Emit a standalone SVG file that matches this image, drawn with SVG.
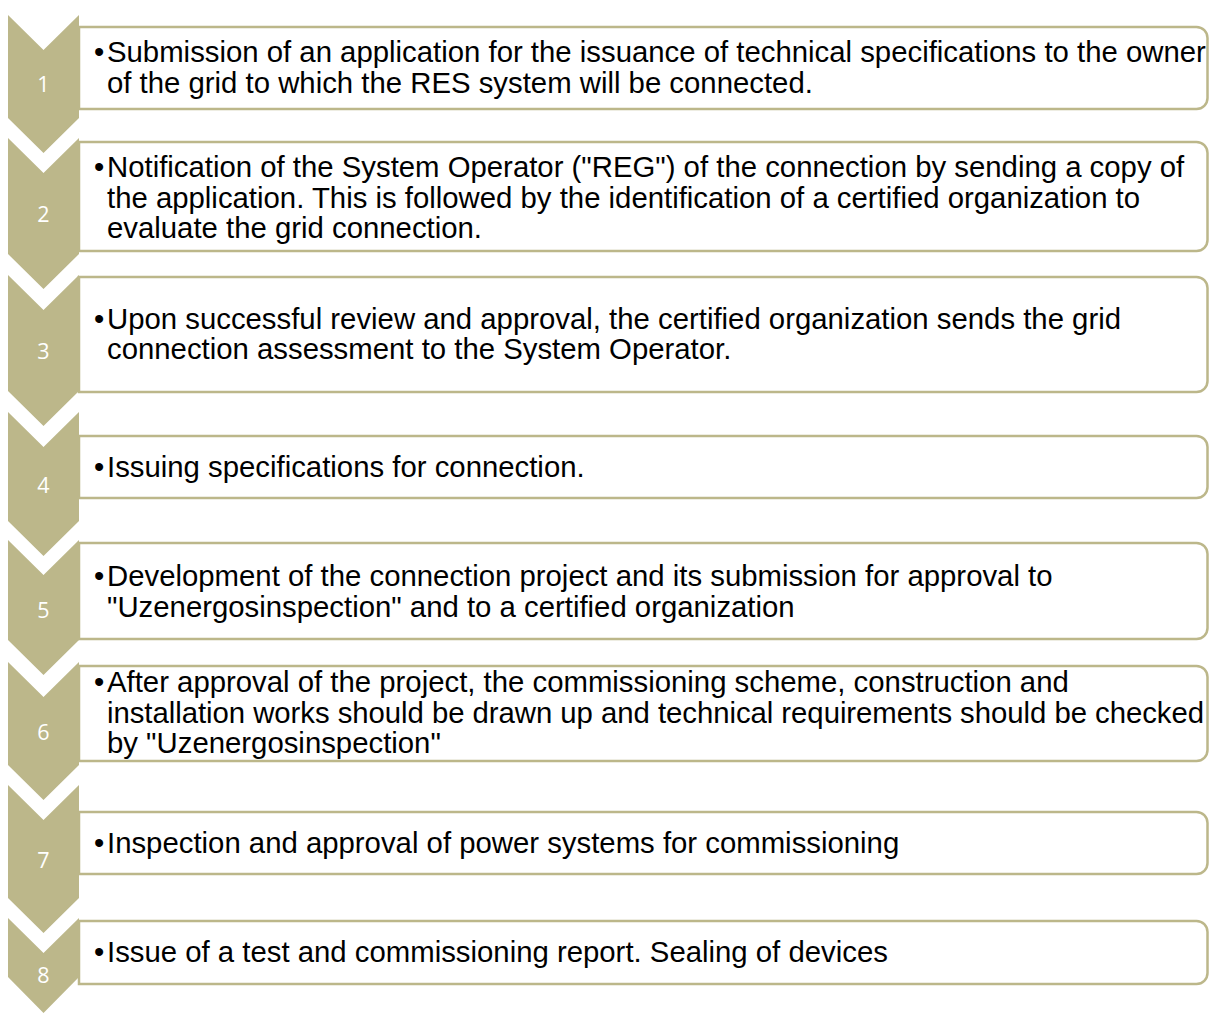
<svg xmlns="http://www.w3.org/2000/svg" width="1209" height="1014" viewBox="0 0 1209 1014">
  <style>
    .box { fill: #FFFFFF; stroke: #BCB78A; stroke-width: 2.5; }
    .chev { fill: #BCB78A; stroke: none; }
    .num { font-family: "Open Sans", "Liberation Sans", sans-serif; font-size: 21.5px; fill: #FFFFFF; text-anchor: middle; }
    .txt { font-family: "Liberation Sans", Arial, sans-serif; font-size: 29.33px; fill: #000000; }
  </style>
  <rect width="1209" height="1014" fill="#FFFFFF"/>

  <!-- step boxes: square left side tucked under the chevron, rounded right corners -->
  <g id="step-1">
    <path class="box" d="M79,27 H1196.5 A11,11 0 0 1 1207.5,38 V98 A11,11 0 0 1 1196.5,109 H79 Z"/>
    <polygon class="chev" points="8,15 43.5,50 79,15 79,118 43.5,153 8,118"/>
    <text class="num" x="43.5" y="92">1</text>
    <text class="txt" x="94" y="62">•</text>
    <text class="txt" x="107" y="62">Submission of an application for the issuance of technical specifications to the owner</text>
    <text class="txt" x="107" y="92.5">of the grid to which the RES system will be connected.</text>
  </g>

  <g id="step-2">
    <path class="box" d="M79,142 H1196.5 A11,11 0 0 1 1207.5,153 V240 A11,11 0 0 1 1196.5,251 H79 Z"/>
    <polygon class="chev" points="8,138 43.5,173 79,138 79,254 43.5,289 8,254"/>
    <text class="num" x="43.5" y="222">2</text>
    <text class="txt" x="94" y="177">•</text>
    <text class="txt" x="107" y="177">Notification of the System Operator ("REG") of the connection by sending a copy of</text>
    <text class="txt" x="107" y="207.5">the application. This is followed by the identification of a certified organization to</text>
    <text class="txt" x="107" y="238">evaluate the grid connection.</text>
  </g>

  <g id="step-3">
    <path class="box" d="M79,277 H1196.5 A11,11 0 0 1 1207.5,288 V381 A11,11 0 0 1 1196.5,392 H79 Z"/>
    <polygon class="chev" points="8,275 43.5,310 79,275 79,391 43.5,426 8,391"/>
    <text class="num" x="43.5" y="359">3</text>
    <text class="txt" x="94" y="328.5">•</text>
    <text class="txt" x="107" y="328.5">Upon successful review and approval, the certified organization sends the grid</text>
    <text class="txt" x="107" y="359">connection assessment to the System Operator.</text>
  </g>

  <g id="step-4">
    <path class="box" d="M79,436 H1196.5 A11,11 0 0 1 1207.5,447 V487 A11,11 0 0 1 1196.5,498 H79 Z"/>
    <polygon class="chev" points="8,412 43.5,447 79,412 79,521 43.5,556 8,521"/>
    <text class="num" x="43.5" y="493">4</text>
    <text class="txt" x="94" y="477">•</text>
    <text class="txt" x="107" y="477">Issuing specifications for connection.</text>
  </g>

  <g id="step-5">
    <path class="box" d="M79,543 H1196.5 A11,11 0 0 1 1207.5,554 V628 A11,11 0 0 1 1196.5,639 H79 Z"/>
    <polygon class="chev" points="8,540 43.5,575 79,540 79,640 43.5,675 8,640"/>
    <text class="num" x="43.5" y="618">5</text>
    <text class="txt" x="94" y="586">•</text>
    <text class="txt" x="107" y="586">Development of the connection project and its submission for approval to</text>
    <text class="txt" x="107" y="616.5">"Uzenergosinspection" and to a certified organization</text>
  </g>

  <g id="step-6">
    <path class="box" d="M79,666 H1196.5 A11,11 0 0 1 1207.5,677 V750 A11,11 0 0 1 1196.5,761 H79 Z"/>
    <polygon class="chev" points="8,662 43.5,697 79,662 79,765 43.5,800 8,765"/>
    <text class="num" x="43.5" y="740">6</text>
    <text class="txt" x="94" y="692">•</text>
    <text class="txt" x="107" y="692">After approval of the project, the commissioning scheme, construction and</text>
    <text class="txt" x="107" y="722.5" textLength="1097" lengthAdjust="spacing">installation works should be drawn up and technical requirements should be checked</text>
    <text class="txt" x="107" y="753">by "Uzenergosinspection"</text>
  </g>

  <g id="step-7">
    <path class="box" d="M79,812 H1196.5 A11,11 0 0 1 1207.5,823 V863 A11,11 0 0 1 1196.5,874 H79 Z"/>
    <polygon class="chev" points="8,785 43.5,820 79,785 79,898 43.5,933 8,898"/>
    <text class="num" x="43.5" y="868">7</text>
    <text class="txt" x="94" y="853">•</text>
    <text class="txt" x="107" y="853">Inspection and approval of power systems for commissioning</text>
  </g>

  <g id="step-8">
    <path class="box" d="M79,921 H1196.5 A11,11 0 0 1 1207.5,932 V973 A11,11 0 0 1 1196.5,984 H79 Z"/>
    <polygon class="chev" points="8,918 43.5,953 79,918 79,977 43.5,1013 8,977"/>
    <text class="num" x="43.5" y="983">8</text>
    <text class="txt" x="94" y="962">•</text>
    <text class="txt" x="107" y="962">Issue of a test and commissioning report. Sealing of devices</text>
  </g>

  <!-- the steps are joined by the nested chevrons themselves; no separate connectors -->
  <g id="connectors"/>
</svg>
